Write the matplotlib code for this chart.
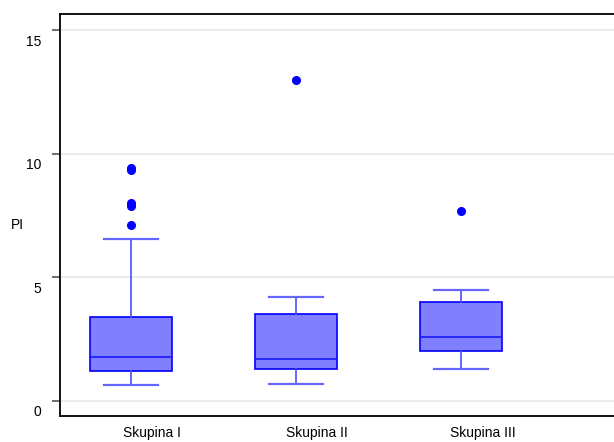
import matplotlib
matplotlib.use("Agg")
import matplotlib.pyplot as plt
import matplotlib.transforms as mtransforms

plt.rcParams['font.family'] = ['Liberation Sans', 'DejaVu Sans']

groups = ["Skupina I", "Skupina II", "Skupina III"]
whislo = [0.65, 0.70, 1.29]
q1 = [1.21, 1.31, 2.01]
med = [1.79, 1.70, 2.60]
q3 = [3.41, 3.51, 3.99]
whishi = [6.53, 4.19, 4.49]
fliers = [[9.42, 9.36, 8.00, 7.90, 7.10], [12.99], [7.68]]
yticks = [0, 5, 10, 15]

stats = []
for i, g in enumerate(groups):
    stats.append(dict(label=g, whislo=whislo[i], q1=q1[i], med=med[i],
                      q3=q3[i], whishi=whishi[i], fliers=fliers[i]))

fig = plt.figure(figsize=(6.14, 4.42), dpi=100)
ax = fig.add_axes([60/614, 26/442, (620-60)/614, 402/442])

positions = [1, 2, 3]
ax.bxp(stats, positions=positions, widths=0.5, patch_artist=True,
       showcaps=True,
       boxprops=dict(facecolor='#8080ff', edgecolor='#0000ff', linewidth=1.2),
       medianprops=dict(color='#1a1aff', linewidth=1.2),
       whiskerprops=dict(color='#4d4dff', linewidth=1.2),
       capprops=dict(color='#6666ff', linewidth=1.6),
       flierprops=dict(marker='o', markerfacecolor='#0000ff', markeredgecolor='#0000ff',
                       markersize=5.5, linestyle='none'),
       capwidths=0.33)

ax.set_xlim(0.57, 1 + (620-131)/165)
ax.set_ylim(-0.61, 15.65)
ax.set_yticks(yticks)
ax.set_yticklabels([str(t) for t in yticks])
ax.yaxis.grid(True, color='#e6e6e6', linewidth=1.2)
ax.set_axisbelow(True)

ax.set_xticks([p + 0.13 for p in positions])
ax.set_xticklabels(groups)
ax.tick_params(axis='x', length=0, pad=7.5, labelsize=10)
ax.tick_params(axis='y', length=6, width=1.2, color='#555555', pad=7.5, labelsize=10)

offset = mtransforms.ScaledTranslation(0, -10/100, fig.dpi_scale_trans)
for lab in ax.get_yticklabels():
    lab.set_transform(lab.get_transform() + offset)

for s in ['left', 'bottom', 'top']:
    ax.spines[s].set_linewidth(1.3)
    ax.spines[s].set_color('black')
ax.spines['right'].set_visible(False)

fig.text(17/614, 1 - 225/442, "PI", fontsize=10, ha='center', va='center')

fig.savefig("out.png", dpi=100)
